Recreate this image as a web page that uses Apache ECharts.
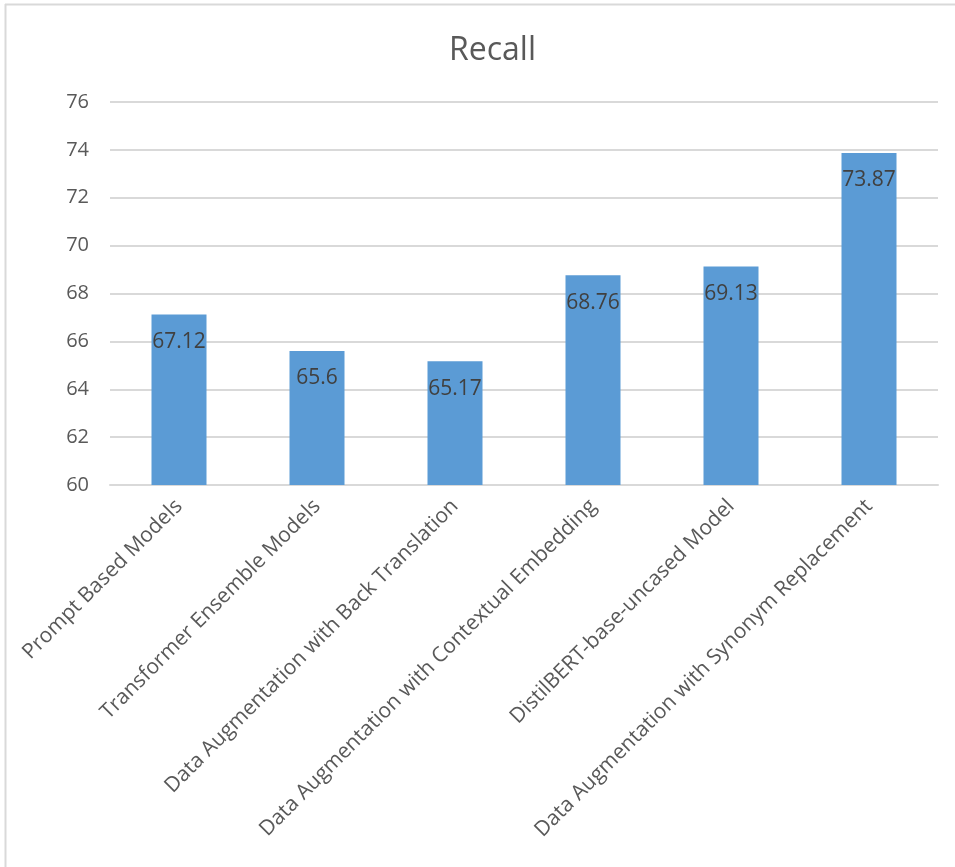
<!DOCTYPE html>
<html>
<head>
<meta charset="utf-8">
<title>Recall</title>
<script src="https://cdn.jsdelivr.net/npm/echarts@6/dist/echarts.min.js"></script>
<style>
  html, body { margin: 0; padding: 0; background: #fff; }
  #chart { width: 955px; height: 867px; }
</style>
</head>
<body>
<div id="chart"></div>
<script>
var categories = [
  "Prompt Based Models",
  "Transformer Ensemble Models",
  "Data Augmentation with Back Translation",
  "Data Augmentation with Contextual Embedding",
  "DistilBERT-base-uncased Model",
  "Data Augmentation with Synonym Replacement"
];
var recall = [67.12, 65.6, 65.17, 68.76, 69.13, 73.87];

var myChart = echarts.init(document.getElementById("chart"));

var option = {
  animation: false,
  title: {
    text: "Recall",
    left: 444,
    top: 30,
    textStyle: {
      fontFamily: "Open Sans, sans-serif",
      fontSize: 32,
      fontWeight: "normal",
      color: "#595959"
    }
  },
  graphic: [
    { type: "line", shape: { x1: 5.5, y1: 4, x2: 5.5, y2: 867 }, style: { stroke: "#d9d9d9", lineWidth: 2 } },
    { type: "line", shape: { x1: 5, y1: 4.5, x2: 955, y2: 4.5 }, style: { stroke: "#d9d9d9", lineWidth: 2 } }
  ],
  grid: {
    left: 110,
    right: 17,
    top: 102,
    bottom: 382
  },
  xAxis: {
    type: "category",
    data: categories,
    axisLine: { lineStyle: { color: "#d9d9d9", width: 2 } },
    axisTick: { show: false },
    axisLabel: {
      interval: 0,
      rotate: 45,
      margin: 18,
      color: "#595959",
      fontFamily: "Open Sans, sans-serif",
      fontSize: 21
    }
  },
  yAxis: {
    type: "value",
    min: 60,
    max: 76,
    interval: 2,
    axisLine: { show: false },
    axisTick: { show: false },
    axisLabel: {
      margin: 21,
      color: "#595959",
      fontFamily: "Open Sans, sans-serif",
      fontSize: 20
    },
    splitLine: { lineStyle: { color: "#d9d9d9", width: 2 } }
  },
  series: [
    {
      type: "bar",
      data: recall,
      barWidth: 55,
      itemStyle: { color: "#5b9bd5" },
      label: {
        show: true,
        position: "insideTop",
        distance: 17,
        color: "#404040",
        fontFamily: "Open Sans, sans-serif",
        fontSize: 21
      }
    }
  ]
};

myChart.setOption(option);
window.addEventListener("resize", function () {
  myChart.resize();
});
</script>
</body>
</html>
